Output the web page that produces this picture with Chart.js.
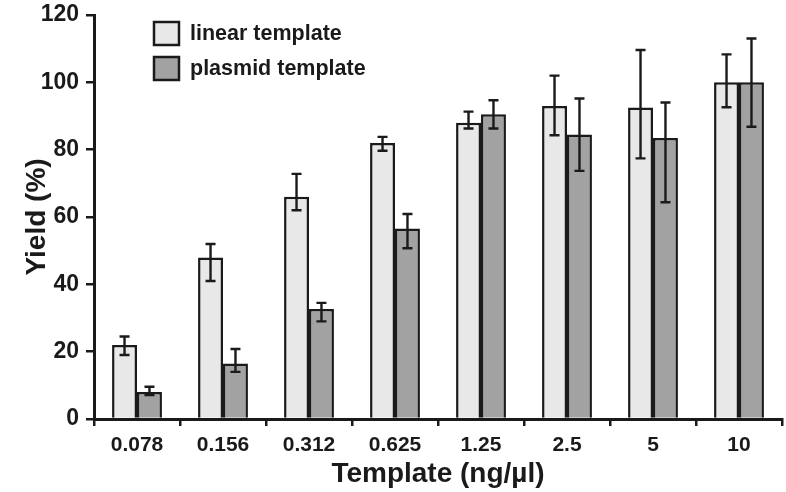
<!DOCTYPE html>
<html>
<head>
<meta charset="utf-8">
<script src="https://cdn.jsdelivr.net/npm/chart.js@4"></script>
<style>
  html, body { margin: 0; padding: 0; background: #fff; }
  #wrap { width: 786px; height: 492px; }
</style>
</head>
<body>
<div id="wrap"><canvas id="yieldChart"></canvas></div>
<script>
const categories = ["0.078", "0.156", "0.312", "0.625", "1.25", "2.5", "5", "10"];
const yTicks = [0, 20, 40, 60, 80, 100, 120];

const linearValues = [22, 48, 66, 82, 88, 93, 92.5, 100];
const linearHigh = [24.5, 52, 72.8, 83.8, 91.3, 102, 109.6, 108.3];
const linearLow = [19, 41, 62, 79.7, 86.3, 84.3, 77.4, 92.6];

const plasmidValues = [8, 16.5, 32.7, 56.6, 90.5, 84.5, 83.5, 100];
const plasmidHigh = [9.6, 20.8, 34.5, 60.9, 94.7, 95.2, 94, 113];
const plasmidLow = [7.1, 14, 29, 50.7, 86.3, 73.7, 64.4, 86.8];

const ink = "#1a1a1a";
const fontFamily = "'Liberation Sans', Arial, sans-serif";

// error bars drawn from the y scale
const errorBars = {
  id: "errorBars",
  afterDatasetsDraw(chart) {
    const ctx = chart.ctx;
    const yScale = chart.scales.y;
    chart.data.datasets.forEach((ds, i) => {
      const meta = chart.getDatasetMeta(i);
      meta.data.forEach((bar, j) => {
        const top = yScale.getPixelForValue(ds.errHigh[j]);
        const bottom = yScale.getPixelForValue(ds.errLow[j]);
        ctx.save();
        ctx.strokeStyle = ink;
        ctx.lineWidth = 2.4;
        ctx.beginPath();
        ctx.moveTo(bar.x, top);
        ctx.lineTo(bar.x, bottom);
        ctx.moveTo(bar.x - 5, top);
        ctx.lineTo(bar.x + 5, top);
        ctx.moveTo(bar.x - 5, bottom);
        ctx.lineTo(bar.x + 5, bottom);
        ctx.stroke();
        ctx.restore();
      });
    });
  },
};

// legend box in the upper left
const boxLegend = {
  id: "boxLegend",
  afterDraw(chart) {
    const ctx = chart.ctx;
    chart.data.datasets.forEach((ds, i) => {
      const y = 22 + i * 35;
      ctx.save();
      ctx.fillStyle = ds.backgroundColor;
      ctx.strokeStyle = ink;
      ctx.lineWidth = 2.5;
      ctx.fillRect(154, y, 25, 23);
      ctx.strokeRect(154, y, 25, 23);
      ctx.fillStyle = ink;
      ctx.font = "bold 21.5px " + fontFamily;
      ctx.textBaseline = "middle";
      ctx.fillText(ds.label, 190, y + 12);
      ctx.restore();
    });
  },
};

new Chart(document.getElementById("yieldChart"), {
  type: "bar",
  data: {
    labels: categories,
    datasets: [
      {
        label: "linear template",
        data: linearValues,
        errHigh: linearHigh,
        errLow: linearLow,
        backgroundColor: "#e8e8e8",
        borderColor: ink,
        borderWidth: 2.5,
      },
      {
        label: "plasmid template",
        data: plasmidValues,
        errHigh: plasmidHigh,
        errLow: plasmidLow,
        backgroundColor: "#a2a2a2",
        borderColor: ink,
        borderWidth: 2.5,
      },
    ],
  },
  options: {
    responsive: true,
    maintainAspectRatio: false,
    animation: false,
    layout: { padding: { top: 15, right: 4, left: 0, bottom: 0 } },
    datasets: { bar: { categoryPercentage: 0.58, barPercentage: 1 } },
    plugins: { legend: { display: false }, tooltip: { enabled: false } },
    scales: {
      x: {
        afterFit: (s) => { s.height = 73; s.paddingLeft = 0; s.paddingRight = 0; },
        grid: { offset: true, drawOnChartArea: false, tickLength: 7, color: ink, lineWidth: 2.5 },
        border: { color: ink, width: 3 },
        ticks: { color: ink, padding: 7, font: { family: fontFamily, size: 21, weight: "bold" } },
        title: {
          display: true,
          text: "Template (ng/µl)",
          color: ink,
          padding: { top: 0, bottom: 1 },
          font: { family: fontFamily, size: 28, weight: "bold", lineHeight: 1.2 },
        },
      },
      y: {
        min: 0,
        max: 120,
        afterFit: (s) => { s.width = 94; s.paddingTop = 0; s.paddingBottom = 0; },
        afterBuildTicks: (s) => { s.ticks = yTicks.map((v) => ({ value: v })); },
        grid: { drawOnChartArea: false, tickLength: 8, color: ink, lineWidth: 2.5 },
        border: { color: ink, width: 3 },
        ticks: { color: ink, padding: 7, font: { family: fontFamily, size: 23, weight: "bold" } },
        title: {
          display: true,
          text: "Yield (%)",
          color: ink,
          padding: { top: 20, bottom: 0 },
          font: { family: fontFamily, size: 28, weight: "bold", lineHeight: 1.2 },
        },
      },
    },
  },
  plugins: [errorBars, boxLegend],
});
</script>
</body>
</html>
